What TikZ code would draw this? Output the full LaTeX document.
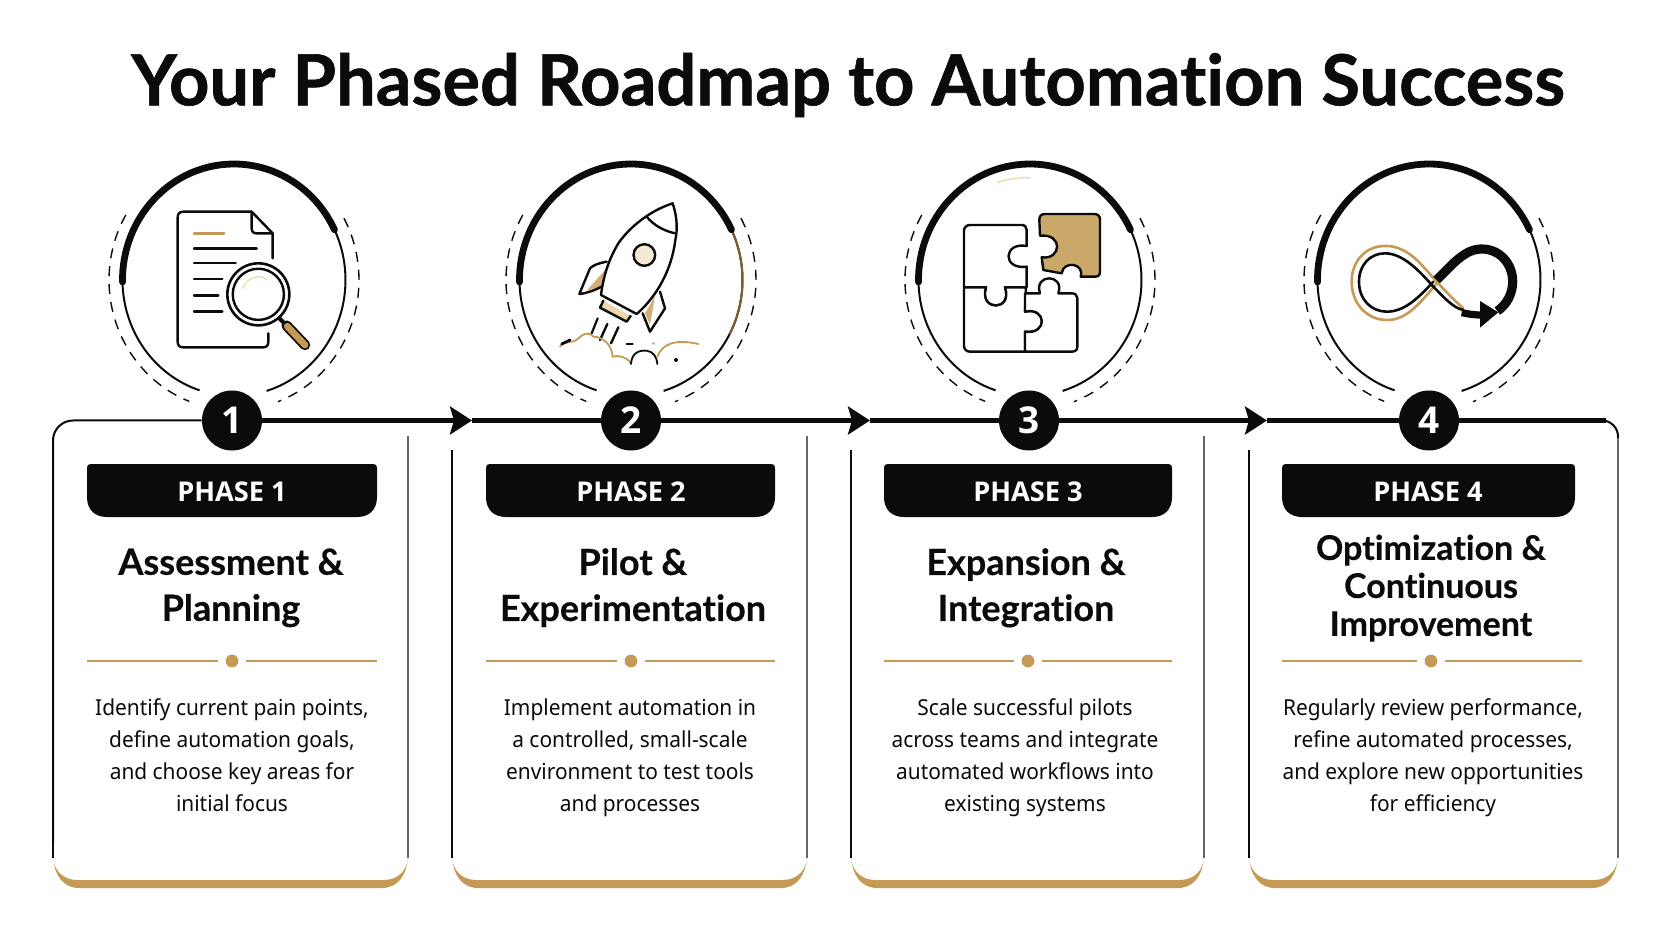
\documentclass[tikz,border=0pt]{standalone}
\usepackage{fontspec}
\setmainfont{Noto Sans}
\newfontfamily\headfont[Ligatures=NoCommon,FakeBold=0.4]{Lato Bold}
\newfontfamily\titlefont[Ligatures=NoCommon,FakeBold=0.9]{Lato Bold}
\newfontfamily\pillfont[BoldFont={Open Sans Bold}]{Open Sans}
\newfontfamily\bodyfont[FakeStretch=0.95]{Noto Sans}
\usetikzlibrary{arrows.meta,calc}
\definecolor{ink}{HTML}{0B0B0B}
\definecolor{gold}{HTML}{C49A55}
\definecolor{puzzlegold}{HTML}{C9A869}
\definecolor{palegold}{HTML}{EBD6AE}
\definecolor{brownline}{HTML}{7E5F2E}
\definecolor{sidegray}{HTML}{666666}
\tikzset{
  titletext/.style={anchor=center,inner sep=0pt,text=ink,font=\titlefont\fontsize{35.2}{44}\selectfont},
  badge/.style={circle,fill=ink,text=white,inner sep=0pt,minimum size=30pt,font=\pillfont\bfseries\fontsize{18.5}{20}\selectfont},
  pilltext/.style={anchor=center,inner sep=0pt,text=white,font=\pillfont\bfseries\fontsize{13.6}{16}\selectfont},
  headtext/.style={anchor=center,align=center,inner sep=0pt,text=ink,execute at begin node=\strut,execute at end node=\strut,font=\headfont\fontsize{18}{23}\selectfont},
  headtighter/.style={anchor=center,align=center,inner sep=0pt,text=ink,execute at begin node=\strut,execute at end node=\strut,font=\headfont\fontsize{17}{19}\selectfont},
  bodytext/.style={anchor=center,align=center,inner sep=0pt,text=ink,execute at begin node=\strut,execute at end node=\strut,font=\bodyfont\fontsize{11}{16}\selectfont},
  rail/.style={line width=2.1pt,draw=ink},
  railhead/.style={-{Stealth[length=11pt,width=14pt,inset=2pt]},line width=2.1pt,draw=ink},
  thinrail/.style={line width=1pt,draw=ink},
  sideL/.style={line width=.7pt,draw=ink},
  sideR/.style={line width=.8pt,draw=sidegray},
  arcthick/.style={line width=3.4pt,draw=ink,line cap=round},
  arcthin/.style={line width=1pt,draw=ink},
  arcdash/.style={line width=.7pt,draw=ink,dash pattern=on 5pt off 4pt},
  divider/.style={line width=.8pt,draw=gold},
  icon/.style={line width=1.2pt,draw=ink,line cap=round,line join=round},
  iconscope/.style={x=.16667pt,y=-.16667pt},
}
\begin{document}
\begin{tikzpicture}[x=.5pt,y=-.5pt]
\useasboundingbox (0,0) rectangle (1672,941);
\fill[white] (0,0) rectangle (1672,941);
\node[titletext] (title) at (848,85) {Your Phased Roadmap to Automation Success};

% cards: gold crescent lip under each card
\foreach \i/\L/\R in {1/53/408,2/452/807,3/851/1204,4/1249/1618}{
  \fill[gold] (\L,856) .. controls (\L+1,875) and (\L+10,888) .. (\L+26,888) -- (\R-26,888)
     .. controls (\R-10,888) and (\R-1,875) .. (\R,856)
     .. controls (\R,870) and (\R-10,880) .. (\R-24,880) -- (\L+24,880)
     .. controls (\L+10,880) and (\L,870) .. (\L,856) -- cycle;
}
\draw[sideR] (408,436) -- (408,858);
\draw[sideL] (452,450) -- (452,858);
\draw[sideR] (807,436) -- (807,858);
\draw[sideL] (851,450) -- (851,858);
\draw[sideR] (1204,436) -- (1204,858);
\draw[sideL] (1249,450) -- (1249,858);
\draw[sideL] (53,840) -- (53,858);
\draw[sideR] (1618,436) -- (1618,858);

% circles + badges
\foreach \i/\cx in {1/234,2/631,3/1030,4/1429}{
  \coordinate (c\i) at (\cx,280);
  \draw[arcthin] ([shift={(25.7:55.75pt and 58pt)}]c\i) arc[start angle=25.7,end angle=-73,x radius=55.75pt,y radius=58pt];
  \draw[arcthin] ([shift={(181:55.75pt and 58pt)}]c\i) arc[start angle=181,end angle=252,x radius=55.75pt,y radius=58pt];
  \draw[arcthick] ([shift={(181:55.75pt and 58pt)}]c\i) arc[start angle=181,end angle=25.7,x radius=55.75pt,y radius=58pt];
  \draw[arcdash] ([shift={(150:62.5pt and 65pt)}]c\i) arc[start angle=150,end angle=249,x radius=62.5pt,y radius=65pt];
  \draw[arcdash] ([shift={(28.4:62.5pt and 65pt)}]c\i) arc[start angle=28.4,end angle=-69.4,x radius=62.5pt,y radius=65pt];
}
\draw[line width=1pt,draw=brownline] ([shift={(24:55.75pt and 58pt)}]c2) arc[start angle=24,end angle=-28,x radius=55.75pt,y radius=58pt];
\node[badge] (b1) at (232,420.5) {1};
\node[badge] (b2) at (631,420.5) {2};
\node[badge] (b3) at (1029,420.5) {3};
\node[badge] (b4) at (1429,420.5) {4};

% rail
\coordinate (a1) at (472,420.5);
\coordinate (a2) at (870,420.5);
\coordinate (a3) at (1267,420.5);
\coordinate (cornerL) at (53,420.5);
\coordinate (leftdown) at (53,842);
\coordinate (railend) at (1606,420.5);
\coordinate (cornerR) at (1618,420.5);
\coordinate (rightdown) at (1618,438);
\draw[thinrail,rounded corners=10pt] (b1.west) -- (cornerL) -- (leftdown);
\draw[railhead] (b1.east) -- (a1);
\draw[rail] (a1) -- (b2.west);
\draw[railhead] (b2.east) -- (a2);
\draw[rail] (a2) -- (b3.west);
\draw[railhead] (b3.east) -- (a3);
\draw[rail] (a3) -- (b4.west);
\draw[rail] (b4.east) -- (railend);
\draw[thinrail,rounded corners=8pt] (railend) -- (cornerR) -- (rightdown);

% pills, dividers
\foreach \i/\L/\R/\T/\DR/\DT in {%
 1/87/377/232/377/232,2/486/775/631/775/631,3/884/1172/1028/1172/1028,4/1282/1575/1428/1582/1431}{
  \fill[ink] (\L+4,464) -- (\R-4,464) .. controls (\R-1,464) and (\R,465) .. (\R,468)
     -- (\R,497) .. controls (\R,510) and (\R-8,517) .. (\R-20,517)
     -- (\L+20,517) .. controls (\L+8,517) and (\L,510) .. (\L,497)
     -- (\L,468) .. controls (\L,465) and (\L+1,464) .. (\L+4,464) -- cycle;
  \node[pilltext] (pill\i) at (\T,492) {PHASE \i};
  \draw[divider] (\L,661) -- (\DT-14,661);
  \draw[divider] (\DT+14,661) -- (\DR,661);
  \fill[gold] (\DT,661) circle[radius=3.2pt];
}
\node[headtext] (head1) at (231,591.5) {Assessment \&\\Planning};
\node[headtext] (head2) at (633,591.5) {Pilot \&\\Experimentation};
\node[headtext] (head3) at (1026,591.5) {Expansion \&\\Integration};
\node[headtighter] (head4) at (1431,591) {Optimization \&\\Continuous\\Improvement};
\node[bodytext] (body1) at (232,759.5) {Identify current pain points,\\define automation goals,\\and choose key areas for\\initial focus};
\node[bodytext] (body2) at (630,759.5) {Implement automation in\\a controlled, small-scale\\environment to test tools\\and processes};
\node[bodytext] (body3) at (1025,759.5) {Scale successful pilots\\across teams and integrate\\automated workflows into\\existing systems};
\node[bodytext] (body4) at (1433,759.5) {Regularly review performance,\\refine automated processes,\\and explore new opportunities\\for efficiency};

% document icon
\begin{scope}[shift={(90,140)},iconscope]
  \draw[icon] (548,355) -- (548,280) -- (485,215) -- (280,215) .. controls (268,215) and (263,222) .. (263,232)
     -- (263,605) .. controls (263,616) and (268,622) .. (280,622) -- (520,622) .. controls (530,622) and (535,616) .. (535,605) -- (535,580);
  \draw[icon] (485,215) -- (485,265) .. controls (485,275) and (490,280) .. (500,280) -- (548,280);
  \draw[line width=1.5pt,draw=gold,line cap=round] (312,280) -- (402,280);
  \foreach \y/\e in {325/500,369/437,417/397,467/385,515/397}{\draw[icon] (312,\y) -- (\e,\y);}
  \fill[white] (505,463) circle[radius=15.5pt];
  \draw[line width=1.3pt,draw=ink] (505,463) circle[radius=15.5pt];
  \draw[line width=1.2pt,draw=ink] (505,463) circle[radius=12.8pt];
  \draw[line width=.6pt,draw=palegold,line cap=round] (458,445) .. controls (470,415) and (505,400) .. (530,418);
  \draw[line width=2pt,draw=ink] (568,535) -- (590,557);
  \draw[line width=5.2pt,draw=ink,line cap=round] (590,557) -- (645,615);
  \draw[line width=3.4pt,draw=gold,line cap=round] (592,559) -- (645,615);
\end{scope}

% rocket icon
\begin{scope}[shift={(490,140)},iconscope]
  \fill[palegold] (340,482) -- (422,528) -- (410,545) -- (330,503) -- cycle;
  \draw[icon] (340,482) -- (330,503) -- (410,545) -- (422,528);
  \fill[gold!80] (345,390) -- (290,452) -- (335,438) -- cycle;
  \fill[gold!80] (495,468) -- (480,555) -- (465,520) -- cycle;
  \draw[icon] (350,365) .. controls (325,370) and (310,375) .. (300,385) -- (268,462) .. controls (290,460) and (315,450) .. (335,440);
  \draw[icon] (510,455) -- (525,505) -- (480,575) -- (458,520);
  \draw[icon] (548,190) .. controls (480,212) and (420,260) .. (385,310) .. controls (355,360) and (340,410) .. (333,465)
     -- (440,522) .. controls (500,470) and (545,390) .. (556,300) .. controls (565,260) and (558,220) .. (548,190) -- cycle;
  \draw[icon] (470,230) .. controls (490,255) and (520,272) .. (555,280);
  \draw[line width=1.2pt,draw=ink,fill=palegold!50] (463,345) circle[radius=5.4pt];
  \draw[line width=1.1pt,draw=ink,line cap=round] (323,535) -- (305,580);
  \draw[line width=1.2pt,draw=ink,line cap=round] (352,552) -- (330,600);
  \draw[line width=1.2pt,draw=ink,line cap=round] (385,562) -- (363,610);
  \draw[line width=.9pt,draw=gold,line cap=round] (210,620) .. controls (225,600) and (250,612) .. (265,595) .. controls (280,580) and (295,575) .. (310,590)
     .. controls (335,590) and (365,610) .. (368,650) .. controls (385,645) and (410,650) .. (423,670);
  \draw[line width=.9pt,draw=ink,line cap=round] (423,672) .. controls (425,640) and (445,630) .. (470,632) .. controls (490,635) and (500,650) .. (502,672);
  \draw[line width=.9pt,draw=gold,line cap=round] (502,650) .. controls (515,615) and (550,595) .. (625,612);
  \draw[line width=1.4pt,draw=ink,line cap=round] (215,612) -- (240,600);
  \draw[line width=1.1pt,draw=ink,line cap=round] (410,613) -- (428,613);
  \fill[ink] (558,660) circle[radius=1pt];
  \fill[gray!60] (490,610) circle[radius=.8pt];
\end{scope}

% puzzle icon
\begin{scope}[shift={(890,140)},iconscope]
  \draw[icon,fill=puzzlegold] (465,222) -- (612,222) .. controls (624,222) and (630,228) .. (630,240) -- (630,395) .. controls (630,405) and (625,410) .. (615,410)
    -- (572,410) .. controls (585,370) and (520,360) .. (515,400) -- (460,390) -- (455,352) .. controls (515,360) and (520,280) .. (450,287) -- (448,240) .. controls (448,228) and (453,222) .. (465,222) -- cycle;
  \draw[icon,fill=white] (222,442) -- (222,272) .. controls (222,262) and (230,255) .. (240,255) -- (395,255) .. controls (405,255) and (410,262) .. (410,270)
    -- (410,318) .. controls (340,305) and (335,390) .. (410,380) -- (410,442) -- (345,442) .. controls (370,515) and (265,515) .. (288,442) -- cycle;
  \draw[icon,fill=white] (222,442) -- (288,442) .. controls (265,515) and (370,515) .. (345,442) -- (408,442) -- (405,515) .. controls (470,500) and (475,585) .. (405,575) -- (405,635) -- (240,635) .. controls (230,635) and (222,628) .. (222,618) -- cycle;
  \draw[icon,fill=white] (405,460) -- (450,460) .. controls (430,400) and (525,400) .. (505,460) -- (545,460) .. controls (556,460) and (562,466) .. (562,475) -- (562,620) .. controls (562,630) and (556,635) .. (545,635) -- (405,635) -- (405,575) .. controls (475,585) and (470,500) .. (405,515) -- cycle;
  \draw[line width=.6pt,draw=palegold,line cap=round] (322,127) .. controls (350,118) and (390,112) .. (420,113);
\end{scope}

% infinity icon
\begin{scope}[shift={(1290,140)},iconscope]
  \draw[line width=1.3pt,draw=gold,line cap=round] (520,505) .. controls (480,470) and (440,425) .. (400,380) .. controls (360,335) and (320,316) .. (285,318) .. controls (225,318) and (185,365) .. (185,425) .. controls (185,495) and (235,540) .. (290,540) .. controls (340,540) and (375,510) .. (440,430);
  \draw[line width=1.3pt,draw=ink,line cap=round] (520,510) .. controls (490,505) and (460,470) .. (430,440) .. controls (390,395) and (340,340) .. (285,340) .. controls (240,340) and (207,375) .. (207,425) .. controls (207,480) and (245,515) .. (290,515) .. controls (340,515) and (380,480) .. (430,425);
  \draw[line width=4.6pt,draw=ink] (440,420) .. controls (490,370) and (525,327) .. (575,327) .. controls (630,327) and (668,372) .. (668,425) .. controls (668,460) and (650,495) .. (622,513);
  \draw[line width=3.6pt,draw=ink] (515,518) .. controls (535,522) and (550,525) .. (575,525);
  \fill[ink] (625,517) -- (570,483) -- (570,563) -- cycle;
\end{scope}
\end{tikzpicture}
\end{document}
